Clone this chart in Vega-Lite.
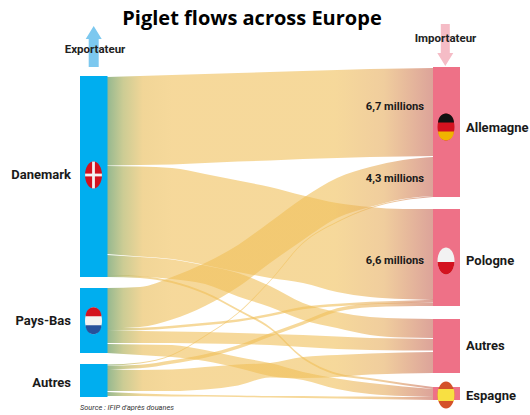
{
"$schema":"https://vega.github.io/schema/vega-lite/v6.json",
"width":530,"height":415,"padding":0,"autosize":{"type":"none"},"background":"white",
"title":{"text":"Piglet flows across Europe","font":"Open Sans","fontSize":20,"fontWeight":"bold","color":"#000000","anchor":"middle","frame":"group","offset":0,"dy":29,"dx":-13},
"config":{"view":{"stroke":null}},
"resolve":{"scale":{"color":"independent"}},
"datasets":{
"flows":[
{"flow":"Danemark-Allemagne","x":10.7,"top":7.7,"bottom":16.55},{"flow":"Danemark-Allemagne","x":14,"top":7.6,"bottom":16.5},{"flow":"Danemark-Allemagne","x":17.2,"top":7.5,"bottom":16.45},{"flow":"Danemark-Allemagne","x":20.5,"top":7.4,"bottom":16.3},{"flow":"Danemark-Allemagne","x":23.8,"top":7.3,"bottom":16.15},{"flow":"Danemark-Allemagne","x":27,"top":7.2,"bottom":16.05},{"flow":"Danemark-Allemagne","x":30.3,"top":7.1,"bottom":15.9},{"flow":"Danemark-Allemagne","x":33.7,"top":7.0,"bottom":15.8},{"flow":"Danemark-Allemagne","x":37,"top":6.9,"bottom":15.7},{"flow":"Danemark-Allemagne","x":40.3,"top":6.85,"bottom":15.65},{"flow":"Danemark-Allemagne","x":43.3,"top":6.8,"bottom":15.6},
{"flow":"Danemark-Pologne","x":10.7,"top":16.6,"bottom":25.4},{"flow":"Danemark-Pologne","x":14,"top":16.65,"bottom":25.65},{"flow":"Danemark-Pologne","x":17.2,"top":16.8,"bottom":25.9},{"flow":"Danemark-Pologne","x":20.5,"top":17.4,"bottom":26.5},{"flow":"Danemark-Pologne","x":23.8,"top":18.05,"bottom":27.2},{"flow":"Danemark-Pologne","x":27,"top":18.7,"bottom":27.8},{"flow":"Danemark-Pologne","x":30.3,"top":19.55,"bottom":28.3},{"flow":"Danemark-Pologne","x":33.7,"top":20.3,"bottom":29.2},{"flow":"Danemark-Pologne","x":37,"top":20.7,"bottom":29.7},{"flow":"Danemark-Pologne","x":40.3,"top":20.9,"bottom":29.9},{"flow":"Danemark-Pologne","x":43.3,"top":20.9,"bottom":30.0},
{"flow":"Danemark-Autres","x":10.7,"top":25.5,"bottom":27.5},{"flow":"Danemark-Autres","x":14,"top":25.7,"bottom":27.65},{"flow":"Danemark-Autres","x":17.2,"top":25.95,"bottom":27.9},{"flow":"Danemark-Autres","x":20.5,"top":26.55,"bottom":28.4},{"flow":"Danemark-Autres","x":23.8,"top":27.3,"bottom":29.65},{"flow":"Danemark-Autres","x":27,"top":28.6,"bottom":30.7},{"flow":"Danemark-Autres","x":30.3,"top":30.3,"bottom":32.0},{"flow":"Danemark-Autres","x":33.7,"top":31.2,"bottom":32.8},{"flow":"Danemark-Autres","x":37,"top":31.7,"bottom":33.5},{"flow":"Danemark-Autres","x":40.3,"top":31.85,"bottom":33.75},{"flow":"Danemark-Autres","x":43.3,"top":31.9,"bottom":33.8},
{"flow":"Danemark-Espagne","x":10.7,"top":27.49,"bottom":27.71},{"flow":"Danemark-Espagne","x":14,"top":27.59,"bottom":27.81},{"flow":"Danemark-Espagne","x":17.2,"top":28.09,"bottom":28.31},{"flow":"Danemark-Espagne","x":20.5,"top":29.19,"bottom":29.41},{"flow":"Danemark-Espagne","x":23.8,"top":30.89,"bottom":31.11},{"flow":"Danemark-Espagne","x":27,"top":32.69,"bottom":32.91},{"flow":"Danemark-Espagne","x":30.3,"top":35.69,"bottom":35.91},{"flow":"Danemark-Espagne","x":33.7,"top":37.29,"bottom":37.51},{"flow":"Danemark-Espagne","x":37,"top":37.79,"bottom":38.01},{"flow":"Danemark-Espagne","x":40.3,"top":38.29,"bottom":38.51},{"flow":"Danemark-Espagne","x":43.3,"top":38.7,"bottom":38.9},
{"flow":"Pays-Bas-Allemagne","x":10.7,"top":28.8,"bottom":32.85},{"flow":"Pays-Bas-Allemagne","x":14,"top":28.7,"bottom":32.7},{"flow":"Pays-Bas-Allemagne","x":17.2,"top":27.7,"bottom":31.95},{"flow":"Pays-Bas-Allemagne","x":20.5,"top":26.3,"bottom":30.6},{"flow":"Pays-Bas-Allemagne","x":23.8,"top":24.5,"bottom":28.7},{"flow":"Pays-Bas-Allemagne","x":27,"top":22.2,"bottom":26.3},{"flow":"Pays-Bas-Allemagne","x":30.3,"top":19.8,"bottom":24.0},{"flow":"Pays-Bas-Allemagne","x":33.7,"top":17.8,"bottom":21.8},{"flow":"Pays-Bas-Allemagne","x":37,"top":16.7,"bottom":20.7},{"flow":"Pays-Bas-Allemagne","x":40.3,"top":16.0,"bottom":19.9},{"flow":"Pays-Bas-Allemagne","x":43.3,"top":15.7,"bottom":19.6},
{"flow":"Autres-Allemagne","x":10.7,"top":36.44,"bottom":36.56},{"flow":"Autres-Allemagne","x":14,"top":36.24,"bottom":36.36},{"flow":"Autres-Allemagne","x":17.2,"top":35.44,"bottom":35.56},{"flow":"Autres-Allemagne","x":20.5,"top":33.54,"bottom":33.66},{"flow":"Autres-Allemagne","x":23.8,"top":31.24,"bottom":31.36},{"flow":"Autres-Allemagne","x":27,"top":28.04,"bottom":28.16},{"flow":"Autres-Allemagne","x":30.3,"top":24.24,"bottom":24.36},{"flow":"Autres-Allemagne","x":33.7,"top":22.14,"bottom":22.26},{"flow":"Autres-Allemagne","x":37,"top":20.74,"bottom":20.86},{"flow":"Autres-Allemagne","x":40.3,"top":19.94,"bottom":20.06},{"flow":"Autres-Allemagne","x":43.3,"top":19.59,"bottom":19.71},
{"flow":"Pays-Bas-Pologne","x":10.7,"top":32.83,"bottom":33.07},{"flow":"Pays-Bas-Pologne","x":14,"top":32.78,"bottom":33.02},{"flow":"Pays-Bas-Pologne","x":17.2,"top":32.58,"bottom":32.82},{"flow":"Pays-Bas-Pologne","x":20.5,"top":32.28,"bottom":32.52},{"flow":"Pays-Bas-Pologne","x":23.8,"top":31.93,"bottom":32.17},{"flow":"Pays-Bas-Pologne","x":27,"top":31.38,"bottom":31.62},{"flow":"Pays-Bas-Pologne","x":30.3,"top":30.68,"bottom":30.92},{"flow":"Pays-Bas-Pologne","x":33.7,"top":30.38,"bottom":30.62},{"flow":"Pays-Bas-Pologne","x":37,"top":30.18,"bottom":30.42},{"flow":"Pays-Bas-Pologne","x":40.3,"top":30.08,"bottom":30.32},{"flow":"Pays-Bas-Pologne","x":43.3,"top":29.98,"bottom":30.22},
{"flow":"Autres-Pologne","x":10.7,"top":36.57,"bottom":36.93},{"flow":"Autres-Pologne","x":14,"top":36.47,"bottom":36.83},{"flow":"Autres-Pologne","x":17.2,"top":36.02,"bottom":36.38},{"flow":"Autres-Pologne","x":20.5,"top":35.42,"bottom":35.78},{"flow":"Autres-Pologne","x":23.8,"top":34.52,"bottom":34.88},{"flow":"Autres-Pologne","x":27,"top":33.32,"bottom":33.68},{"flow":"Autres-Pologne","x":30.3,"top":32.12,"bottom":32.48},{"flow":"Autres-Pologne","x":33.7,"top":30.82,"bottom":31.18},{"flow":"Autres-Pologne","x":37,"top":30.37,"bottom":30.73},{"flow":"Autres-Pologne","x":40.3,"top":30.27,"bottom":30.63},{"flow":"Autres-Pologne","x":43.3,"top":30.25,"bottom":30.61},
{"flow":"Pays-Bas-Autres","x":10.7,"top":33.05,"bottom":34.3},{"flow":"Pays-Bas-Autres","x":14,"top":33.1,"bottom":34.3},{"flow":"Pays-Bas-Autres","x":17.2,"top":33.15,"bottom":34.3},{"flow":"Pays-Bas-Autres","x":20.5,"top":33.2,"bottom":34.35},{"flow":"Pays-Bas-Autres","x":23.8,"top":33.3,"bottom":34.4},{"flow":"Pays-Bas-Autres","x":27,"top":33.4,"bottom":34.5},{"flow":"Pays-Bas-Autres","x":30.3,"top":33.5,"bottom":34.7},{"flow":"Pays-Bas-Autres","x":33.7,"top":33.65,"bottom":34.9},{"flow":"Pays-Bas-Autres","x":37,"top":33.8,"bottom":35.0},{"flow":"Pays-Bas-Autres","x":40.3,"top":33.85,"bottom":35.05},{"flow":"Pays-Bas-Autres","x":43.3,"top":33.9,"bottom":35.05},
{"flow":"Pays-Bas-Espagne","x":10.7,"top":34.4,"bottom":35.3},{"flow":"Pays-Bas-Espagne","x":14,"top":34.45,"bottom":35.5},{"flow":"Pays-Bas-Espagne","x":17.2,"top":34.5,"bottom":35.7},{"flow":"Pays-Bas-Espagne","x":20.5,"top":35.0,"bottom":36.1},{"flow":"Pays-Bas-Espagne","x":23.8,"top":35.7,"bottom":36.8},{"flow":"Pays-Bas-Espagne","x":27,"top":36.3,"bottom":37.6},{"flow":"Pays-Bas-Espagne","x":30.3,"top":37.2,"bottom":38.0},{"flow":"Pays-Bas-Espagne","x":33.7,"top":37.85,"bottom":38.9},{"flow":"Pays-Bas-Espagne","x":37,"top":38.3,"bottom":39.4},{"flow":"Pays-Bas-Espagne","x":40.3,"top":38.65,"bottom":39.6},{"flow":"Pays-Bas-Espagne","x":43.3,"top":38.9,"bottom":39.7},
{"flow":"Autres-Autres","x":10.7,"top":36.9,"bottom":39.1},{"flow":"Autres-Autres","x":14,"top":37.0,"bottom":39.1},{"flow":"Autres-Autres","x":17.2,"top":36.95,"bottom":39.1},{"flow":"Autres-Autres","x":20.5,"top":36.7,"bottom":38.95},{"flow":"Autres-Autres","x":23.8,"top":36.45,"bottom":38.55},{"flow":"Autres-Autres","x":27,"top":36.3,"bottom":37.75},{"flow":"Autres-Autres","x":30.3,"top":35.7,"bottom":37.8},{"flow":"Autres-Autres","x":33.7,"top":35.5,"bottom":37.7},{"flow":"Autres-Autres","x":37,"top":35.35,"bottom":37.45},{"flow":"Autres-Autres","x":40.3,"top":35.25,"bottom":37.35},{"flow":"Autres-Autres","x":43.3,"top":35.2,"bottom":37.3},
{"flow":"Autres-Espagne","x":10.7,"top":39.2,"bottom":39.6},{"flow":"Autres-Espagne","x":14,"top":39.35,"bottom":39.6},{"flow":"Autres-Espagne","x":17.2,"top":39.45,"bottom":39.65},{"flow":"Autres-Espagne","x":20.5,"top":39.5,"bottom":39.65},{"flow":"Autres-Espagne","x":23.8,"top":39.55,"bottom":39.7},{"flow":"Autres-Espagne","x":27,"top":39.6,"bottom":39.75},{"flow":"Autres-Espagne","x":30.3,"top":39.6,"bottom":39.8},{"flow":"Autres-Espagne","x":33.7,"top":39.65,"bottom":39.85},{"flow":"Autres-Espagne","x":37,"top":39.65,"bottom":39.9},{"flow":"Autres-Espagne","x":40.3,"top":39.7,"bottom":39.95},{"flow":"Autres-Espagne","x":43.3,"top":39.7,"bottom":40.0}
],
"nodes":[
{"node":"Danemark","side":"Exportateur","x":8.0,"x2":10.75,"top":7.6,"bottom":27.7},
{"node":"Pays-Bas","side":"Exportateur","x":8.0,"x2":10.75,"top":28.8,"bottom":35.3},
{"node":"Autres","side":"Exportateur","x":8.0,"x2":10.75,"top":36.4,"bottom":39.7},
{"node":"Allemagne","side":"Importateur","x":43.3,"x2":46.0,"top":6.7,"bottom":19.7},
{"node":"Pologne","side":"Importateur","x":43.3,"x2":46.0,"top":20.9,"bottom":30.6},
{"node":"Autres","side":"Importateur","x":43.3,"x2":46.0,"top":31.9,"bottom":37.3},
{"node":"Espagne","side":"Importateur","x":43.3,"x2":46.0,"top":38.7,"bottom":40.0}
],
"symbols":[
{"item":"Exportateur","part":"arrow-up","tint":"bleu clair","x":9.37,"y":4.65},
{"item":"Importateur","part":"arrow-down","tint":"rose","x":44.53,"y":4.5},
{"item":"Danemark","part":"ellipse","tint":"rouge","x":9.35,"y":17.5},
{"item":"Danemark","part":"bar-h","tint":"blanc","x":9.35,"y":17.5},
{"item":"Danemark","part":"bar-v","tint":"blanc","x":9.35,"y":17.5},
{"item":"Pays-Bas","part":"ellipse","tint":"blanc","x":9.35,"y":32.07},
{"item":"Pays-Bas","part":"band-top","tint":"rouge","x":9.35,"y":32.07},
{"item":"Pays-Bas","part":"band-bottom","tint":"bleu","x":9.35,"y":32.07},
{"item":"Allemagne","part":"ellipse","tint":"rouge","x":44.6,"y":12.7},
{"item":"Allemagne","part":"band-top","tint":"noir","x":44.6,"y":12.7},
{"item":"Allemagne","part":"band-bottom","tint":"or","x":44.6,"y":12.7},
{"item":"Pologne","part":"ellipse","tint":"blanc","x":44.6,"y":26.1},
{"item":"Pologne","part":"half-bottom","tint":"rouge","x":44.6,"y":26.1},
{"item":"Espagne","part":"ellipse","tint":"rouge orange","x":44.6,"y":39.5},
{"item":"Espagne","part":"band-wide","tint":"jaune","x":44.6,"y":39.5}
],
"labels":[
{"text":"Danemark","x":7.1,"y":17.5,"kind":"left"},
{"text":"Pays-Bas","x":7.1,"y":32.1,"kind":"left"},
{"text":"Autres","x":7.1,"y":38.3,"kind":"left"},
{"text":"Allemagne","x":46.6,"y":12.8,"kind":"right"},
{"text":"Pologne","x":46.6,"y":26.1,"kind":"right"},
{"text":"Autres","x":46.6,"y":34.6,"kind":"right"},
{"text":"Espagne","x":46.6,"y":39.6,"kind":"right"},
{"text":"6,7 millions","x":42.4,"y":10.7,"kind":"value"},
{"text":"4,3 millions","x":42.4,"y":17.9,"kind":"value"},
{"text":"6,6 millions","x":42.4,"y":26.1,"kind":"value"},
{"text":"Exportateur","x":9.5,"y":5.0,"kind":"head"},
{"text":"Importateur","x":44.55,"y":3.9,"kind":"head"},
{"text":"Source : IFIP d'après douanes","x":8.0,"y":40.8,"kind":"source"}
]
},
"layer":[
{"data":{"name":"flows"},
 "mark":{"type":"area","interpolate":"monotone","opacity":0.6,"color":{"gradient":"linear","x1":0,"y1":0,"x2":1,"y2":0,"stops":[{"offset":0,"color":"#4d8845"},{"offset":0.05,"color":"#aaaa4d"},{"offset":0.11,"color":"#e8ba52"},{"offset":0.2,"color":"#f0bf58"},{"offset":0.7,"color":"#f0bf58"},{"offset":0.85,"color":"#e6ac5c"},{"offset":1,"color":"#c56656"}]}},
 "encoding":{
  "x":{"field":"x","type":"quantitative","scale":{"domain":[0,53],"nice":false,"zero":false},"axis":null},
  "y":{"field":"top","type":"quantitative","scale":{"domain":[41.5,0],"nice":false,"zero":false},"axis":null},
  "y2":{"field":"bottom"},
  "detail":{"field":"flow"}
 }},
{"data":{"name":"nodes"},
 "mark":{"type":"rect"},
 "encoding":{
  "x":{"field":"x","type":"quantitative","axis":null},"x2":{"field":"x2"},
  "y":{"field":"top","type":"quantitative","axis":null},"y2":{"field":"bottom"},
  "color":{"field":"side","type":"nominal","legend":null,"scale":{"domain":["Exportateur","Importateur"],"range":["#00aeef","#ee7187"]}}
 }},
{"data":{"name":"symbols"},
 "mark":{"type":"point","filled":true,"opacity":1,"size":400,"strokeWidth":0},
 "encoding":{
  "x":{"field":"x","type":"quantitative","axis":null},
  "y":{"field":"y","type":"quantitative","axis":null},
  "shape":{"field":"part","type":"nominal","legend":null,"scale":{"domain":["arrow-up","arrow-down","ellipse","bar-h","bar-v","band-top","band-bottom","half-bottom","band-wide"],
   "range":["M0,-2.05L.8,-.75L.5,-.75L.5,2.05L-.5,2.05L-.5,-.75L-.8,-.75Z","M0,2.1L.8,.8L.45,.8L.45,-2.1L-.45,-2.1L-.45,.8L-.8,.8Z","M0,-1.35C.47,-1.35,.85,-.75,.85,0C.85,.75,.47,1.35,0,1.35C-.47,1.35,-.85,.75,-.85,0C-.85,-.75,-.47,-1.35,0,-1.35Z","M-.84,-.14L.84,-.14L.84,.14L-.84,.14Z","M-.14,-1.34L.14,-1.34L.14,1.34L-.14,1.34Z","M-.8,-.45C-.75,-1,-.45,-1.35,0,-1.35C.45,-1.35,.75,-1,.8,-.45Z","M-.8,.45C-.75,1,-.45,1.35,0,1.35C.45,1.35,.75,1,.8,.45Z","M-.85,.1C-.8,.85,-.45,1.35,0,1.35C.45,1.35,.8,.85,.85,.1Z","M-.78,-.6L.78,-.6C.87,-.2,.87,.2,.78,.6L-.78,.6C-.87,.2,-.87,-.2,-.78,-.6Z"]}},
  "color":{"field":"tint","type":"nominal","legend":null,"scale":{"domain":["bleu clair","rose","rouge","blanc","bleu","noir","or","rouge orange","jaune"],"range":["#7cc8ef","#f5bcc6","#d3121f","#f2f2f2","#27509b","#111111","#f0b400","#d4522a","#f8e042"]}}
 }},
{"data":{"name":"labels"},"transform":[{"filter":"datum.kind==='left'"}],
 "mark":{"type":"text","align":"right","baseline":"middle","font":"Roboto","fontWeight":"bold","fontSize":13,"color":"#1a1a1a"},
 "encoding":{"x":{"field":"x","type":"quantitative","axis":null},"y":{"field":"y","type":"quantitative","axis":null},"text":{"field":"text"}}},
{"data":{"name":"labels"},"transform":[{"filter":"datum.kind==='right'"}],
 "mark":{"type":"text","align":"left","baseline":"middle","font":"Roboto","fontWeight":"bold","fontSize":13,"color":"#1a1a1a"},
 "encoding":{"x":{"field":"x","type":"quantitative","axis":null},"y":{"field":"y","type":"quantitative","axis":null},"text":{"field":"text"}}},
{"data":{"name":"labels"},"transform":[{"filter":"datum.kind==='value'"}],
 "mark":{"type":"text","align":"right","baseline":"middle","font":"Roboto","fontWeight":"bold","fontSize":11.2,"color":"#1a1a1a"},
 "encoding":{"x":{"field":"x","type":"quantitative","axis":null},"y":{"field":"y","type":"quantitative","axis":null},"text":{"field":"text"}}},
{"data":{"name":"labels"},"transform":[{"filter":"datum.kind==='head'"}],
 "mark":{"type":"text","align":"center","baseline":"middle","font":"Roboto","fontWeight":"bold","fontSize":11.5,"color":"#222222"},
 "encoding":{"x":{"field":"x","type":"quantitative","axis":null},"y":{"field":"y","type":"quantitative","axis":null},"text":{"field":"text"}}},
{"data":{"name":"labels"},"transform":[{"filter":"datum.kind==='source'"}],
 "mark":{"type":"text","align":"left","baseline":"middle","font":"Roboto","fontStyle":"italic","fontSize":7.4,"color":"#333333"},
 "encoding":{"x":{"field":"x","type":"quantitative","axis":null},"y":{"field":"y","type":"quantitative","axis":null},"text":{"field":"text"}}}
]
}
